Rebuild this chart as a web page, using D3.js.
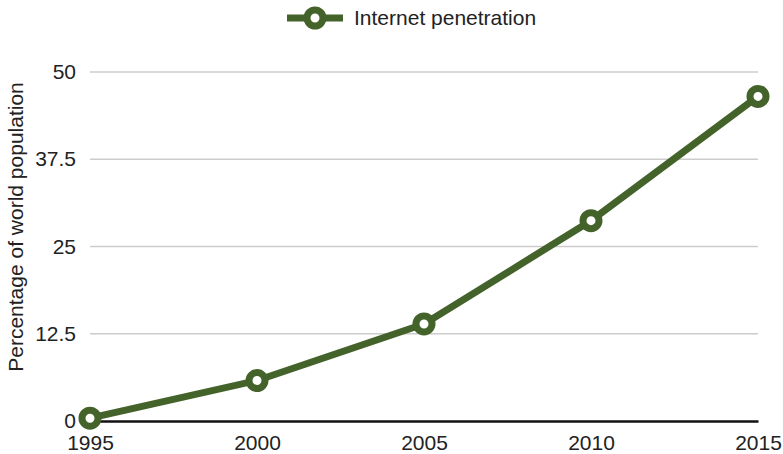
<!DOCTYPE html>
<html>
<head>
<meta charset="utf-8">
<script src="https://cdn.jsdelivr.net/npm/d3@7"></script>
<style>
  html, body { margin: 0; padding: 0; background: #fff; }
  svg { display: block; font-family: "Liberation Sans", Arial, sans-serif; }
</style>
</head>
<body>
<svg id="chart" width="783" height="454"></svg>
<script>
// Share of the world population using the internet
const years = [1995, 2000, 2005, 2010, 2015];
const penetration = [0.4, 5.8, 13.9, 28.7, 46.5];
const yTicks = [0, 12.5, 25, 37.5, 50];
const seriesName = "Internet penetration";
const yTitle = "Percentage of world population";

const color = "#44632a";
const fontSize = 21;
const svg = d3.select("#chart");

const x = d3.scaleLinear().domain([1995, 2015]).range([90, 758]);
const y = d3.scaleLinear().domain([0, 50]).range([421, 72]);

// horizontal gridlines
svg.append("g")
  .selectAll("line")
  .data(yTicks.filter(t => t !== 0))
  .join("line")
  .attr("x1", x(1995)).attr("x2", x(2015))
  .attr("y1", d => y(d)).attr("y2", d => y(d))
  .attr("stroke", "#cccccc").attr("stroke-width", 1.5);

// y axis labels
const yAxis = d3.axisLeft(y).tickValues(yTicks).tickSize(0).tickPadding(0)
  .tickFormat(d => String(d));
svg.append("g")
  .attr("transform", "translate(76,0)")
  .call(yAxis)
  .call(g => g.select(".domain").remove())
  .call(g => g.selectAll("text").attr("font-size", fontSize).attr("fill", "#222")
    .attr("font-family", "Liberation Sans, Arial, sans-serif"));

// x axis
const xAxis = d3.axisBottom(x).tickValues(years).tickSize(0).tickPadding(14)
  .tickFormat(d3.format("d"));
svg.append("g")
  .attr("transform", `translate(0,${y(0)})`)
  .call(xAxis)
  .call(g => g.select(".domain").attr("stroke", "#111").attr("stroke-width", 2.5))
  .call(g => g.selectAll("text").attr("font-size", fontSize).attr("fill", "#222")
    .attr("font-family", "Liberation Sans, Arial, sans-serif"));

// y axis title
svg.append("text")
  .attr("transform", "translate(23,227) rotate(-90)")
  .attr("text-anchor", "middle")
  .attr("font-size", fontSize)
  .attr("fill", "#222")
  .text(yTitle);

// series line
const pts = years.map((yr, i) => ({ yr, v: penetration[i] }));
svg.append("path")
  .datum(pts)
  .attr("fill", "none")
  .attr("stroke", color)
  .attr("stroke-width", 7)
  .attr("stroke-linejoin", "round")
  .attr("d", d3.line().x(d => x(d.yr)).y(d => y(d.v)));

// hollow markers
svg.append("g")
  .selectAll("circle")
  .data(pts)
  .join("circle")
  .attr("cx", d => x(d.yr)).attr("cy", d => y(d.v))
  .attr("r", 8)
  .attr("fill", "#fff")
  .attr("stroke", color)
  .attr("stroke-width", 7);

// legend
const lg = svg.append("g").attr("transform", "translate(0,18)");
lg.append("line").attr("x1", 287).attr("x2", 343).attr("y1", 0).attr("y2", 0)
  .attr("stroke", color).attr("stroke-width", 7);
lg.append("circle").attr("cx", 315).attr("cy", 0).attr("r", 8)
  .attr("fill", "#fff").attr("stroke", color).attr("stroke-width", 7);
lg.append("text").attr("x", 354).attr("y", 0).attr("dy", "0.35em")
  .attr("font-size", fontSize).attr("fill", "#222").text(seriesName);
</script>
</body>
</html>
